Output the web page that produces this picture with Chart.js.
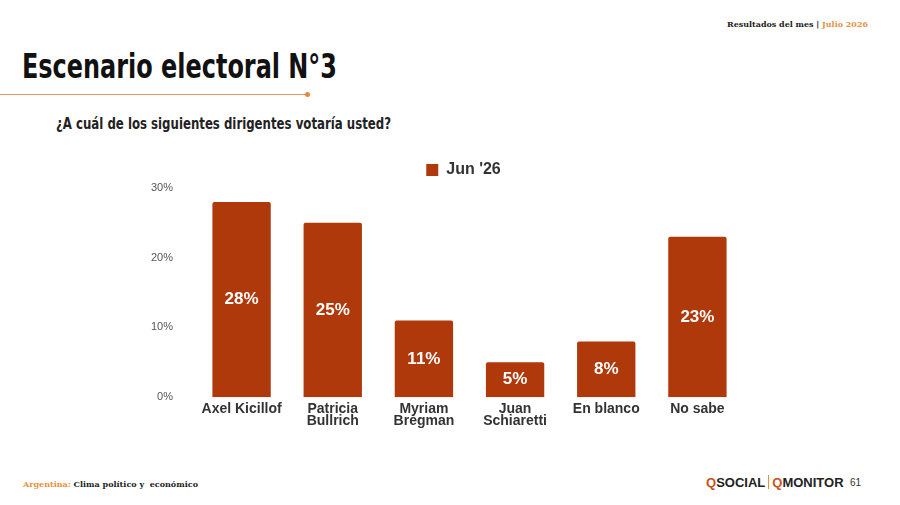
<!DOCTYPE html>
<html>
<head>
<meta charset="utf-8">
<script src="https://cdn.jsdelivr.net/npm/chart.js@4.4.0/dist/chart.umd.min.js"></script>
<style>
  html, body { margin: 0; padding: 0; background: #fff; }
  #page { position: relative; width: 900px; height: 505px; overflow: hidden; background: #fff; }
  .fit { position: absolute; white-space: nowrap; transform-origin: 0 0; }
  #title { left: 22px; top: 46px; font: bold 34px "DejaVu Sans Condensed", "DejaVu Sans", sans-serif; color: #111; }
  #subtitle { left: 56px; top: 114px; font: bold 16px "DejaVu Sans Condensed", "DejaVu Sans", sans-serif; color: #222; }
  #rule { position: absolute; left: 0; top: 94px; width: 306px; height: 1px; background: #e59a5c; }
  #dot { position: absolute; left: 305px; top: 92px; width: 5px; height: 5px; border-radius: 50%; background: #e08a44; }
  #header { left: 727px; top: 19px; font: bold 8px "DejaVu Serif", "Liberation Serif", serif; color: #222; }
  #footer { left: 23px; top: 479px; font: bold 8px "DejaVu Serif", "Liberation Serif", serif; color: #222; }
  .orange { color: #e8903e; }
  #logo { position: absolute; left: 706px; top: 475px; font: 13px "Liberation Sans", Arial, sans-serif; color: #222; white-space: nowrap; }
  #logo b { font-weight: bold; }
  #logo .q { color: #c4561c; }
  #logo .sep { display: inline-block; width: 1px; height: 14px; background: #e8903e; margin: 0 3px; vertical-align: -2px; }
  #pagenum { position: absolute; left: 850px; top: 477px; font: 10px "Liberation Sans", Arial, sans-serif; color: #333; }
  #chartBox { position: absolute; left: 0; top: 144px; width: 900px; height: 291px; }
</style>
</head>
<body>
<div id="page">
  <div id="header" class="fit" data-w="141">Resultados del mes | <span class="orange">Julio 2026</span></div>
  <div id="title" class="fit" data-w="315">Escenario electoral N°3</div>
  <div id="rule"></div><div id="dot"></div>
  <div id="subtitle" class="fit" data-w="335">¿A cuál de los siguientes dirigentes votaría usted?</div>
  <div id="chartBox"><canvas id="myChart"></canvas></div>
  <div id="footer" class="fit" data-w="175"><span class="orange">Argentina:</span> Clima político y &nbsp;económico</div>
  <div id="logo"><b><span class="q">Q</span>SOCIAL</b><span class="sep"></span><b><span class="q">Q</span>MONITOR</b></div>
  <div id="pagenum">61</div>
</div>
<script>
// squeeze the headings to the reference width
document.querySelectorAll('.fit[data-w]').forEach(function (el) {
  var w = el.getBoundingClientRect().width;
  el.style.transform = 'scaleX(' + (parseFloat(el.dataset.w) / w) + ')';
});

var categories = [['Axel Kicillof'], ['Patricia', 'Bullrich'], ['Myriam', 'Bregman'], ['Juan', 'Schiaretti'], ['En blanco'], ['No sabe']];
var seriesName = "Jun '26";
var values = [28, 25, 11, 5, 8, 23];
var yTicks = [0, 10, 20, 30];

var barColor = '#b0390b';
var fontFam = '"Liberation Sans", Arial, sans-serif';

// value label in the middle of each bar
var barLabels = {
  id: 'barLabels',
  afterDatasetsDraw: function (chart) {
    var ctx = chart.ctx;
    var meta = chart.getDatasetMeta(0);
    ctx.save();
    ctx.font = 'bold 17px ' + fontFam;
    ctx.fillStyle = '#ffffff';
    ctx.textAlign = 'center';
    ctx.textBaseline = 'middle';
    meta.data.forEach(function (bar, i) {
      ctx.fillText(values[i] + '%', bar.x, (bar.y + bar.base) / 2);
    });
    ctx.restore();
  }
};

var ctx = document.getElementById('myChart').getContext('2d');
new Chart(ctx, {
  type: 'bar',
  data: {
    labels: categories,
    datasets: [{
      label: seriesName,
      data: values,
      backgroundColor: barColor,
      borderRadius: 2,
      borderSkipped: 'bottom',
      barPercentage: 0.8,
      categoryPercentage: 0.8
    }]
  },
  options: {
    responsive: true,
    maintainAspectRatio: false,
    animation: false,
    layout: { padding: { left: 184, right: 157, top: 11, bottom: 0 } },
    plugins: {
      legend: {
        display: true,
        position: 'top',
        labels: {
          boxWidth: 12,
          boxHeight: 12,
          color: '#333',
          font: { family: fontFam, size: 16, weight: 'bold' },
          padding: 7
        }
      },
      tooltip: { enabled: false }
    },
    scales: {
      x: {
        // extra room under the labels so descenders are not clipped
        afterFit: function (axis) { axis.height += 10; },
        grid: { display: false },
        border: { display: false },
        ticks: {
          color: '#333',
          padding: -2,
          font: { family: fontFam, size: 14, weight: 'bold', lineHeight: 0.85 }
        }
      },
      y: {
        min: yTicks[0],
        max: yTicks[yTicks.length - 1],
        afterBuildTicks: function (axis) {
          axis.ticks = yTicks.map(function (v) { return { value: v }; });
        },
        // narrow axis; mirrored labels pushed back out to the left
        afterFit: function (axis) { axis.width = 12; },
        grid: { display: false },
        border: { display: false },
        ticks: {
          mirror: true,
          crossAlign: 'far',
          color: '#555',
          padding: -45,
          font: { family: fontFam, size: 11 },
          callback: function (v) { return v + '%'; }
        }
      }
    }
  },
  plugins: [barLabels]
});
</script>
</body>
</html>
